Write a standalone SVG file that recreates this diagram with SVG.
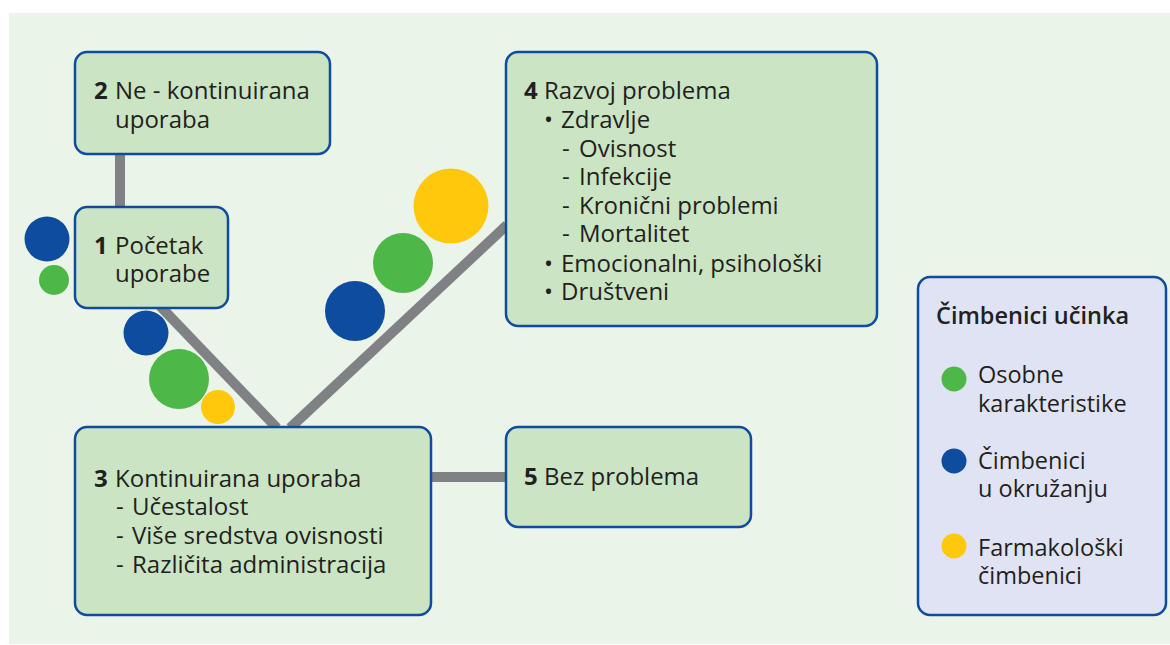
<svg xmlns="http://www.w3.org/2000/svg" width="1170" height="645" viewBox="0 0 1170 645">
<style>
.box{fill:#CBE4C3;stroke:#0D4C9F;stroke-width:2.5}
.leg{fill:#E0E3F3;stroke:#0D4C9F;stroke-width:2.5}
.t{font-family:"Open Sans","Noto Sans","Liberation Sans",sans-serif;font-size:24px;fill:#231F20}
.b{font-weight:700}
.lt{font-family:"Open Sans","Noto Sans","Liberation Sans",sans-serif;font-size:23.5px;fill:#231F20}
.conn{stroke:#808184;stroke-width:10;fill:none}
.g{fill:#4DB848}.bl{fill:#0D4C9F}.y{fill:#FFC80B}
</style>
<rect x="9" y="13" width="1161" height="631" fill="#EAF4E9"/>
<g id="connectors">
<line class="conn" x1="120" y1="154" x2="120" y2="207"/>
<line class="conn" x1="160" y1="306" x2="277" y2="428"/>
<line class="conn" x1="290" y1="428" x2="507" y2="225"/>
<line class="conn" x1="431" y1="477" x2="506" y2="477"/>
</g>
<g id="node2">
<rect class="box" x="75" y="52" width="255" height="102" rx="12"/>
<text class="t b" x="94" y="99">2</text>
<text class="t" x="115" y="99">Ne - kontinuirana</text>
<text class="t" x="115" y="128">uporaba</text>
</g>
<g id="node1">
<rect class="box" x="75" y="207" width="153" height="101" rx="12"/>
<text class="t b" x="94" y="254">1</text>
<text class="t" x="115" y="254">Početak</text>
<text class="t" x="115" y="282">uporabe</text>
</g>
<g id="node4">
<rect class="box" x="506" y="52" width="371" height="274" rx="12"/>
<text class="t b" x="524" y="99">4</text>
<text class="t" x="544" y="99">Razvoj problema</text>
<text class="t" x="544" y="128">•</text>
<text class="t" x="561" y="128">Zdravlje</text>
<text class="t" x="562" y="157">-</text>
<text class="t" x="579" y="157">Ovisnost</text>
<text class="t" x="562" y="185">-</text>
<text class="t" x="579" y="185">Infekcije</text>
<text class="t" x="562" y="214">-</text>
<text class="t" x="579" y="214">Kronični problemi</text>
<text class="t" x="562" y="242">-</text>
<text class="t" x="579" y="242">Mortalitet</text>
<text class="t" x="544" y="272">•</text>
<text class="t" x="561" y="272">Emocionalni, psihološki</text>
<text class="t" x="544" y="300">•</text>
<text class="t" x="561" y="300">Društveni</text>
</g>
<g id="node3">
<rect class="box" x="75" y="427" width="356" height="188" rx="12"/>
<text class="t b" x="94" y="487">3</text>
<text class="t" x="115" y="487">Kontinuirana uporaba</text>
<text class="t" x="116" y="515">-</text>
<text class="t" x="132" y="515">Učestalost</text>
<text class="t" x="116" y="544">-</text>
<text class="t" x="132" y="544">Više sredstva ovisnosti</text>
<text class="t" x="116" y="573">-</text>
<text class="t" x="132" y="573">Različita administracija</text>
</g>
<g id="node5">
<rect class="box" x="506" y="427" width="245" height="100" rx="12"/>
<text class="t b" x="524" y="485">5</text>
<text class="t" x="544" y="485">Bez problema</text>
</g>
<g id="factors">
<circle class="bl" cx="47" cy="239" r="22.5"/>
<circle class="g" cx="54" cy="280" r="15"/>
<circle class="bl" cx="146" cy="333" r="22.5"/>
<circle class="g" cx="179" cy="379" r="30"/>
<circle class="y" cx="218" cy="407" r="17"/>
<circle class="y" cx="451" cy="206" r="37.5"/>
<circle class="g" cx="403" cy="263" r="30"/>
<circle class="bl" cx="355" cy="311" r="30"/>
</g>
<g id="legend">
<rect class="leg" x="918" y="277" width="248" height="338" rx="12"/>
<text class="lt" x="936" y="324" font-weight="600">Čimbenici učinka</text>
<circle class="g" cx="954" cy="379" r="12.5"/>
<text class="lt" x="978" y="383">Osobne</text>
<text class="lt" x="978" y="412">karakteristike</text>
<circle class="bl" cx="954" cy="461" r="12.5"/>
<text class="lt" x="978" y="469">Čimbenici</text>
<text class="lt" x="978" y="497">u okružanju</text>
<circle class="y" cx="954" cy="546" r="12.5"/>
<text class="lt" x="978" y="556">Farmakološki</text>
<text class="lt" x="978" y="584">čimbenici</text>
</g>
</svg>
